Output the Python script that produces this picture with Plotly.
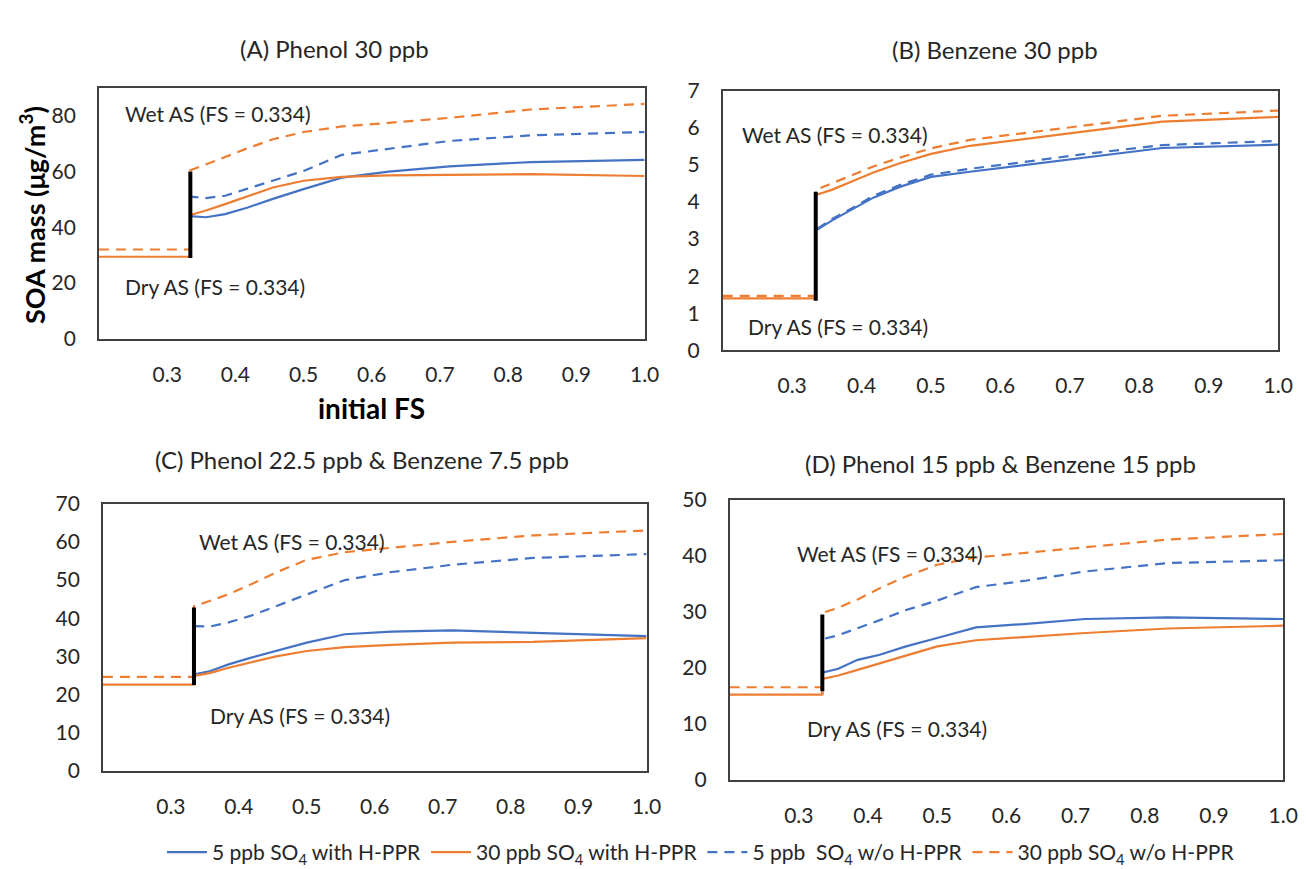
import plotly.graph_objects as go

# ---------------- data ----------------
fs_dry = [0.2, 0.334]
fs_wet = [0.334, 0.357, 0.385, 0.417, 0.455, 0.5, 0.556, 0.625, 0.714, 0.833, 1.0]
x_ticks = [0.3, 0.4, 0.5, 0.6, 0.7, 0.8, 0.9, 1.0]

series_names = [
    "5 ppb SO<sub>4</sub> with H-PPR",
    "30 ppb SO<sub>4</sub> with H-PPR",
    "5 ppb  SO<sub>4</sub> w/o H-PPR",
    "30 ppb SO<sub>4</sub> w/o H-PPR",
]
panel_titles = [
    "(A) Phenol 30 ppb",
    "(B) Benzene 30 ppb",
    "(C) Phenol 22.5 ppb & Benzene 7.5 ppb",
    "(D) Phenol 15 ppb & Benzene 15 ppb",
]

# Panel A - Phenol 30 ppb
a_dry_with = 29.4
a_dry_wo = 32.0
a_5_with = [44.0, 43.6, 44.7, 47.0, 50.2, 53.7, 57.8, 60.0, 61.9, 63.4, 64.2]
a_30_with = [44.4, 46.0, 48.3, 51.0, 54.3, 56.7, 58.1, 58.6, 58.9, 59.1, 58.4]
a_5_wo = [51.0, 50.5, 51.3, 53.8, 56.8, 60.2, 66.0, 68.3, 71.0, 73.0, 74.2]
a_30_wo = [60.5, 62.5, 65.2, 68.3, 71.6, 74.2, 76.2, 77.5, 79.3, 82.3, 84.3]
a_bar = [29.0, 60.0]

# Panel B - Benzene 30 ppb
b_dry_with = 1.40
b_dry_wo = 1.47
b_5_with = [3.23, 3.50, 3.78, 4.12, 4.41, 4.68, 4.82, 4.98, 5.20, 5.46, 5.55]
b_30_with = [4.19, 4.33, 4.55, 4.80, 5.05, 5.30, 5.52, 5.68, 5.90, 6.17, 6.30]
b_5_wo = [3.25, 3.54, 3.82, 4.17, 4.46, 4.74, 4.90, 5.06, 5.28, 5.54, 5.65]
b_30_wo = [4.33, 4.50, 4.72, 4.96, 5.20, 5.45, 5.68, 5.85, 6.05, 6.33, 6.47]
b_bar = [1.34, 4.28]

# Panel C - Phenol 22.5 ppb & Benzene 7.5 ppb
c_dry_with = 22.6
c_dry_wo = 24.6
c_5_with = [25.3, 26.1, 27.9, 29.6, 31.4, 33.6, 35.8, 36.5, 36.8, 36.2, 35.3]
c_30_with = [24.9, 25.6, 27.0, 28.4, 30.0, 31.4, 32.4, 33.0, 33.6, 33.8, 34.8]
c_5_wo = [37.9, 37.8, 38.9, 40.6, 43.2, 46.2, 50.0, 52.1, 54.0, 55.8, 56.8]
c_30_wo = [43.2, 44.5, 46.3, 48.8, 52.0, 55.3, 57.3, 58.5, 60.0, 61.7, 63.0]
c_bar = [22.5, 42.8]

# Panel D - Phenol 15 ppb & Benzene 15 ppb
d_dry_with = 15.2
d_dry_wo = 16.5
d_5_with = [19.1, 19.8, 21.4, 22.3, 23.8, 25.3, 27.2, 27.8, 28.7, 29.0, 28.7]
d_30_with = [18.0, 18.6, 19.6, 20.8, 22.2, 23.8, 24.9, 25.5, 26.2, 27.0, 27.5]
d_5_wo = [25.1, 25.8, 27.0, 28.5, 30.3, 32.0, 34.4, 35.5, 37.2, 38.7, 39.2]
d_30_wo = [29.8, 30.7, 32.2, 34.2, 36.3, 38.4, 39.7, 40.5, 41.6, 42.9, 43.9]
d_bar = [15.8, 29.5]

# ---------------- styling ----------------
FONT = "Lato, 'Open Sans', sans-serif"
TXT = "#262626"
BLUE = "#4472C4"
ORANGE = "#ED7D31"
DASH = "10px,7px"
colors = [BLUE, ORANGE, BLUE, ORANGE]
dashes = ["solid", "solid", DASH, DASH]

panels = [
    dict(dry=(a_dry_with, a_dry_wo), s=[a_5_with, a_30_with, a_5_wo, a_30_wo], bar=a_bar,
         yrange=[0, 90], dtick=20, dom_x=[92, 644], dom_y=[68, 326],
         title_xy=(330, 27), wet=(0.236, 80.7), dry_lab=(0.236, 18.9)),
    dict(dry=(b_dry_with, b_dry_wo), s=[b_5_with, b_30_with, b_5_wo, b_30_wo], bar=b_bar,
         yrange=[0, 7], dtick=1, dom_x=[723, 1285], dom_y=[71, 338],
         title_xy=(998, 28), wet=(0.225, 5.83), dry_lab=(0.234, 0.64)),
    dict(dry=(c_dry_with, c_dry_wo), s=[c_5_with, c_30_with, c_5_wo, c_30_wo], bar=c_bar,
         yrange=[0, 70], dtick=10, dom_x=[96, 646], dom_y=[496, 771],
         title_xy=(358, 450), wet=(0.339, 60.0), dry_lab=(0.355, 14.4)),
    dict(dry=(d_dry_with, d_dry_wo), s=[d_5_with, d_30_with, d_5_wo, d_30_wo], bar=d_bar,
         yrange=[0, 50], dtick=10, dom_x=[730, 1290], dom_y=[492, 780],
         title_xy=(1004, 455), wet=(0.295, 40.4), dry_lab=(0.309, 9.2)),
]

W, H = 1306, 869
fig = go.Figure()
annotations = []
layout_axes = {}

for i, p in enumerate(panels):
    n = "" if i == 0 else str(i + 1)
    xa, ya = "x" + n, "y" + n
    for k in range(4):
        dry_val = p["dry"][0] if k in (0, 1) else p["dry"][1]
        if k in (1, 3):
            # 30 ppb series carries the visible dry (FS = 0.334 dry AS) segment
            xs = fs_dry + fs_wet
            ys = [dry_val, dry_val] + p["s"][k]
        else:
            # 5 ppb series: only the vertical jump from dry then the wet curve
            xs = fs_dry[1:] + fs_wet
            ys = [dry_val] + p["s"][k]
        fig.add_trace(go.Scatter(
            x=xs, y=ys, mode="lines", name=series_names[k],
            line=dict(color=colors[k], width=2.2, dash=dashes[k]),
            showlegend=(i == 0), legendgroup=str(k),
            xaxis=xa, yaxis=ya, hoverinfo="skip"))
    fig.add_trace(go.Scatter(
        x=[fs_dry[1], fs_dry[1]], y=p["bar"], mode="lines",
        line=dict(color="black", width=4), showlegend=False,
        xaxis=xa, yaxis=ya, hoverinfo="skip"))

    x0, x1 = p["dom_x"]
    y0, y1 = p["dom_y"]
    axis_common = dict(showline=True, mirror=True, linecolor="#404040", linewidth=1.5,
                       showgrid=False, zeroline=False,
                       tickfont=dict(family=FONT, size=21, color=TXT),
                       ticks="outside", tickcolor="rgba(0,0,0,0)")
    layout_axes["xaxis" + n] = dict(
        axis_common, domain=[x0 / W, x1 / W], range=[0.2, 1.0],
        tickvals=x_ticks, tickformat=".1f", ticklen=16, anchor=ya)
    layout_axes["yaxis" + n] = dict(
        axis_common, domain=[1 - y1 / H, 1 - y0 / H], range=p["yrange"],
        dtick=p["dtick"], tick0=0, ticklen=17, anchor=xa)

    tx, ty = p["title_xy"]
    annotations.append(dict(text=panel_titles[i], x=tx / W, y=1 - ty / H, xref="paper", yref="paper",
                            xanchor="center", yanchor="middle", showarrow=False,
                            font=dict(family=FONT, size=24, color=TXT)))
    annotations.append(dict(text="Wet AS (FS = 0.334)", x=p["wet"][0], y=p["wet"][1],
                            xref=xa, yref=ya, xanchor="left", yanchor="middle", showarrow=False,
                            font=dict(family=FONT, size=21, color=TXT)))
    annotations.append(dict(text="Dry AS (FS = 0.334)", x=p["dry_lab"][0], y=p["dry_lab"][1],
                            xref=xa, yref=ya, xanchor="left", yanchor="middle", showarrow=False,
                            font=dict(family=FONT, size=21, color=TXT)))

annotations.append(dict(text="<b>SOA mass (μg/m<sup>3</sup>)</b>", x=25 / W, y=1 - 199 / H,
                        xref="paper", yref="paper", textangle=-90, showarrow=False,
                        xanchor="center", yanchor="middle",
                        font=dict(family=FONT, size=27, color="black")))
annotations.append(dict(text="<b>initial FS</b>", x=368 / W, y=1 - 397 / H,
                        xref="paper", yref="paper", showarrow=False,
                        xanchor="center", yanchor="middle",
                        font=dict(family=FONT, size=28, color="black")))

fig.update_layout(
    width=W, height=H, margin=dict(l=0, r=0, t=0, b=0),
    paper_bgcolor="white", plot_bgcolor="white",
    annotations=annotations,
    legend=dict(orientation="h", x=701 / W, xanchor="center", y=1 - 855 / H, yanchor="middle",
                font=dict(family=FONT, size=21, color=TXT), itemwidth=40,
                bgcolor="rgba(0,0,0,0)"),
    **layout_axes,
)

fig.write_html("out.html")
